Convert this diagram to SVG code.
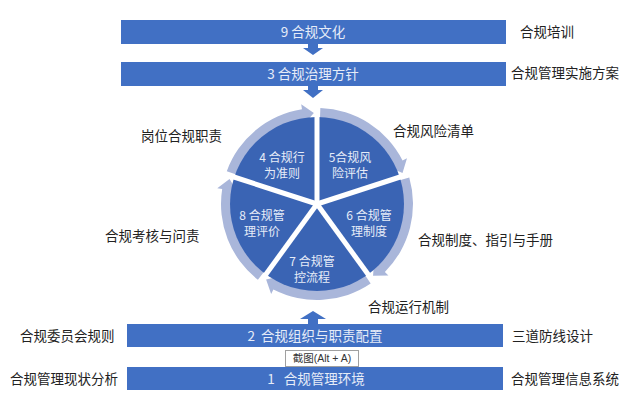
<svg xmlns="http://www.w3.org/2000/svg" xmlns:xlink="http://www.w3.org/1999/xlink" width="640" height="408" viewBox="0 0 640 408">
<style>
.bar{fill:#4170c4}
.bt{font-family:"Noto Sans CJK SC","Noto Sans",sans-serif;font-size:13.5px;fill:#e6ecf8;text-anchor:middle;white-space:pre}
.lab{font-family:"Noto Sans CJK SC","Noto Sans",sans-serif;font-size:13.5px;fill:#222}
.wt{font-family:"Noto Sans CJK SC","Noto Sans",sans-serif;font-size:12px;fill:#e6ecf8;text-anchor:middle}
.arr{fill:#4170c4}
.ring{fill:#a9b6da}
.gap{stroke:#ffffff;stroke-width:5}
</style>
<defs>
<path id="seg" d="M320.35,108.06 A96,96 0 0 1 402.54,160.42 L406.99,158.15 L402.51,172.88 L389.17,167.23 L393.63,164.96 A86,86 0 0 0 320.0,118.05 Z"/>
</defs>
<rect width="640" height="408" fill="#ffffff"/>

<g id="connectors">
<path class="arr" d="M308,44 H318 V48 H323 L313,55 L303,48 H308 Z"/>
<path class="arr" d="M308,86 H318 V90 H323 L313,98 L303,90 H308 Z"/>
<path class="arr" d="M308,324 H318 V319 H326 L313,311 L300,319 H308 Z"/>
</g>

<g id="bar9">
<rect class="bar" x="121" y="20" width="385" height="24"/>
<text class="bt" x="313" y="37">9 合规文化</text>
</g>
<g id="bar3">
<rect class="bar" x="121" y="62" width="385" height="24"/>
<text class="bt" x="313" y="79">3 合规治理方针</text>
</g>
<g id="bar2">
<rect class="bar" x="127" y="324" width="376" height="23"/>
<text class="bt" x="315" y="340.5" xml:space="preserve">2  合规组织与职责配置</text>
</g>
<g id="bar1">
<rect class="bar" x="127" y="367" width="376" height="23"/>
<text class="bt" x="316" y="383.5" xml:space="preserve">1   合规管理环境</text>
</g>

<g id="cycle">
<g id="ring">
<use href="#seg" xlink:href="#seg" class="ring"/>
<use href="#seg" xlink:href="#seg" class="ring" transform="rotate(72 317 204)"/>
<use href="#seg" xlink:href="#seg" class="ring" transform="rotate(144 317 204)"/>
<use href="#seg" xlink:href="#seg" class="ring" transform="rotate(216 317 204)"/>
<use href="#seg" xlink:href="#seg" class="ring" transform="rotate(288 317 204)"/>
</g>
<circle cx="317" cy="204" r="87" fill="#3a64b4"/>
<g id="gaps">
<line class="gap" x1="317" y1="204" x2="317" y2="115"/>
<line class="gap" x1="317" y1="204" x2="401.6" y2="176.5"/>
<line class="gap" x1="317" y1="204" x2="369.3" y2="276"/>
<line class="gap" x1="317" y1="204" x2="264.7" y2="276"/>
<line class="gap" x1="317" y1="204" x2="232.4" y2="176.5"/>
</g>
</g>

<g id="w4"><text class="wt" x="282" y="162">4 合规行</text><text class="wt" x="282" y="178">为准则</text></g>
<g id="w5"><text class="wt" x="350" y="162">5合规风</text><text class="wt" x="350" y="178">险评估</text></g>
<g id="w6"><text class="wt" x="369" y="220">6 合规管</text><text class="wt" x="369" y="236">理制度</text></g>
<g id="w7"><text class="wt" x="312" y="266">7 合规管</text><text class="wt" x="312" y="282">控流程</text></g>
<g id="w8"><text class="wt" x="262" y="220">8 合规管</text><text class="wt" x="262" y="236">理评价</text></g>

<g id="labels">
<text class="lab" x="520" y="37">合规培训</text>
<text class="lab" x="511" y="78">合规管理实施方案</text>
<text class="lab" x="141" y="141">岗位合规职责</text>
<text class="lab" x="393" y="136">合规风险清单</text>
<text class="lab" x="105" y="241">合规考核与问责</text>
<text class="lab" x="418" y="245">合规制度、指引与手册</text>
<text class="lab" x="368" y="312">合规运行机制</text>
<text class="lab" x="20" y="341">合规委员会规则</text>
<text class="lab" x="512" y="341">三道防线设计</text>
<text class="lab" x="10" y="384">合规管理现状分析</text>
<text class="lab" x="511" y="384">合规管理信息系统</text>
</g>

<g id="tooltip">
<rect x="285.5" y="350.5" width="73" height="16" fill="#ffffff" stroke="#a0a0a0" stroke-width="1"/>
<text x="322" y="362" font-family="Liberation Sans,'Noto Sans CJK SC',sans-serif" font-size="10.5" fill="#333" text-anchor="middle">截图(Alt + A)</text>
</g>
</svg>
